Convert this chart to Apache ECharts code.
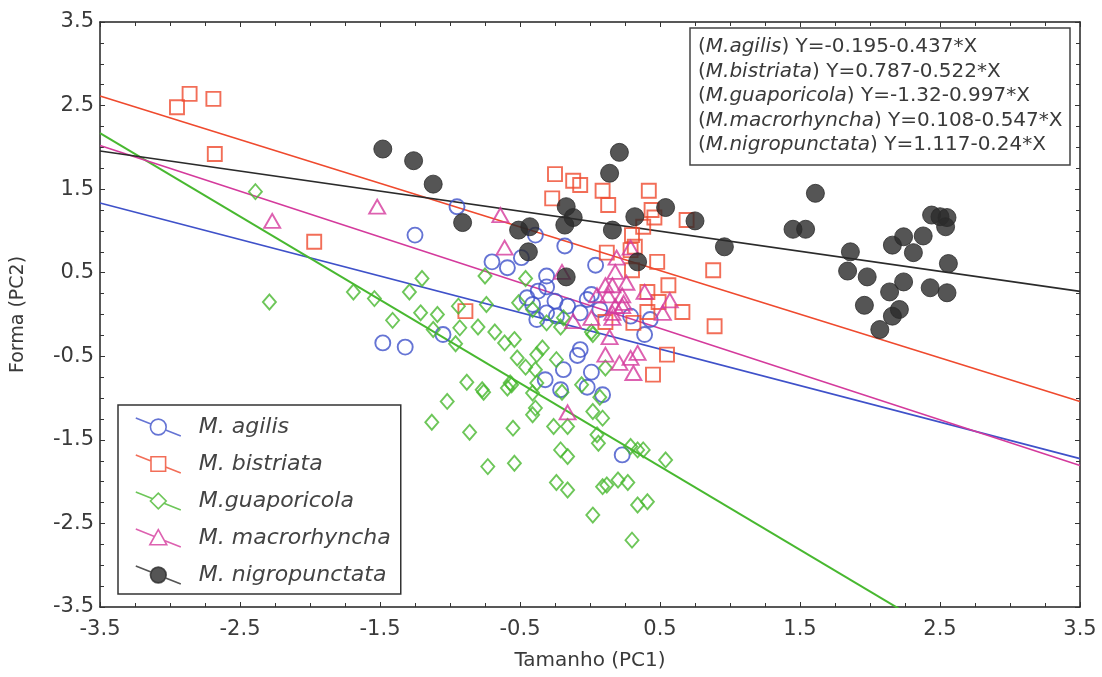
<!DOCTYPE html>
<html>
<head>
<meta charset="utf-8">
<script src="https://cdn.jsdelivr.net/npm/echarts@6/dist/echarts.min.js"></script>
<style>
html,body{margin:0;padding:0;background:#fff;}
#chart{width:1102px;height:677px;}
</style>
</head>
<body>
<div id="chart"></div>
<script>
// ---- tick labels ----
const xTicks = [-3.5, -2.5, -1.5, -0.5, 0.5, 1.5, 2.5, 3.5];
const yTicks = [-3.5, -2.5, -1.5, -0.5, 0.5, 1.5, 2.5, 3.5];
const xName = 'Tamanho (PC1)';
const yName = 'Forma (PC2)';

// ---- species ----
const legendNames = ['M. agilis', 'M. bistriata', 'M.guaporicola', 'M. macrorhyncha', 'M. nigropunctata'];
const eqNames = ['M.agilis', 'M.bistriata', 'M.guaporicola', 'M.macrorhyncha', 'M.nigropunctata'];
const eqIntercept = [-0.195, 0.787, -1.32, 0.108, 1.117];
const eqSlope = [-0.437, -0.522, -0.997, -0.547, -0.24];

// ---- data (PC1, PC2) ----
const agilis = [
  [-0.95,1.29],[-1.25,0.95],[-1.48,-0.34],[-1.32,-0.39],[-1.05,-0.24],[-0.39,0.95],[-0.18,0.82],
  [-0.70,0.63],[-0.59,0.56],[-0.49,0.68],[-0.31,0.46],[-0.31,0.33],[0.04,0.59],[-0.41,0.12],
  [-0.25,0.16],[-0.16,0.10],[-0.07,0.02],[-0.31,0.02],[-0.38,-0.06],[-0.24,-0.02],[0.01,0.24],
  [0.07,0.06],[0.29,-0.02],[0.43,-0.06],[0.39,-0.24],[-0.07,-0.42],[-0.09,-0.49],[0.01,-0.69],
  [-0.32,-0.78],[-0.02,-0.87],[0.09,-0.96],[-0.37,0.28],[-0.02,0.18],[-0.19,-0.66],[-0.21,-0.90],
  [0.23,-1.68],[-0.45,0.20]
];
const bistriata = [
  [-2.95,2.48],[-2.86,2.64],[-2.69,2.58],[-2.68,1.92],[-1.97,0.87],[-0.89,0.04],[-0.25,1.68],
  [-0.12,1.60],[-0.07,1.55],[-0.27,1.39],[0.09,1.48],[0.13,1.31],[0.42,1.48],[0.44,1.25],
  [0.46,1.16],[0.38,1.05],[0.30,0.95],[0.32,0.81],[0.69,1.13],[0.12,0.74],[0.29,0.77],
  [0.48,0.63],[0.30,0.53],[0.88,0.53],[0.56,0.35],[0.41,0.27],[0.49,0.15],[0.41,0.03],
  [0.66,0.03],[0.31,-0.10],[0.11,-0.09],[0.89,-0.14],[0.55,-0.48],[0.45,-0.72]
];
const guaporicola = [
  [-2.39,1.47],[-2.29,0.15],[-1.69,0.27],[-1.54,0.19],[-1.41,-0.07],[-1.20,0.43],[-1.29,0.27],
  [-1.21,0.02],[-1.09,0.00],[-1.12,-0.18],[-0.94,0.10],[-0.93,-0.16],[-0.96,-0.35],[-0.88,-0.81],
  [-1.02,-1.04],[-0.75,0.46],[-0.46,0.43],[-0.74,0.12],[-0.51,0.14],[-0.41,0.06],[-0.80,-0.15],
  [-0.68,-0.21],[-0.61,-0.34],[-0.54,-0.30],[-0.31,-0.10],[-0.19,-0.04],[-0.21,-0.15],[0.01,-0.21],
  [-0.52,-0.52],[-0.46,-0.63],[-0.39,-0.66],[-0.34,-0.40],[-0.24,-0.54],[-0.38,-0.82],[-0.56,-0.84],
  [-0.77,-0.90],[-0.20,-0.93],[-0.06,-0.84],[0.07,-0.99],[0.11,-0.64],[-1.13,-1.29],[-0.86,-1.41],
  [-0.76,-0.93],[-0.73,-1.82],[-0.54,-1.78],[-0.55,-1.36],[-0.38,-0.48],[-0.57,-0.82],[-0.59,-0.88],
  [-0.41,-0.94],[-0.39,-1.12],[-0.41,-1.20],[-0.26,-1.34],[-0.16,-1.34],[-0.21,-1.62],[-0.16,-1.70],
  [-0.24,-2.01],[-0.16,-2.10],[0.02,-1.16],[0.09,-1.24],[0.05,-1.44],[0.06,-1.54],[0.09,-2.06],
  [0.12,-2.04],[0.20,-1.98],[0.27,-2.01],[0.02,-2.40],[0.30,-2.70],[0.34,-2.28],[0.41,-2.24],
  [0.29,-1.58],[0.34,-1.62],[0.38,-1.62],[0.54,-1.74],[0.02,-0.24]
];
const macrorhyncha = [
  [-2.27,1.12],[-1.52,1.29],[-0.64,1.19],[-0.61,0.80],[-0.20,0.51],[0.29,0.80],[0.19,0.68],
  [0.18,0.51],[0.11,0.35],[0.16,0.35],[0.26,0.38],[0.05,0.23],[0.13,0.23],[0.23,0.23],
  [0.39,0.27],[0.57,0.17],[0.52,0.02],[0.18,0.10],[0.23,0.10],[-0.12,-0.08],[0.01,-0.04],
  [0.16,-0.04],[0.14,-0.27],[0.11,-0.48],[0.21,-0.58],[0.29,-0.52],[0.34,-0.46],[0.31,-0.70],
  [-0.16,-1.17],[0.24,0.14],[0.16,0.02]
];
const nigropunctata = [
  [-1.48,1.98],[-1.26,1.84],[-1.12,1.56],[-0.91,1.10],[-0.51,1.01],[-0.43,1.05],[-0.44,0.75],
  [-0.17,0.45],[-0.17,1.29],[-0.12,1.16],[-0.18,1.07],[0.14,1.69],[0.21,1.94],[0.16,1.01],
  [0.32,1.17],[0.54,1.28],[0.75,1.12],[0.34,0.63],[0.96,0.81],[1.61,1.45],[1.45,1.02],
  [1.54,1.02],[1.86,0.75],[1.84,0.52],[1.98,0.45],[1.96,0.11],[2.07,-0.18],[2.14,0.27],
  [2.24,0.39],[2.16,-0.02],[2.21,0.06],[2.16,0.83],[2.24,0.93],[2.38,0.94],[2.31,0.74],
  [2.56,0.61],[2.43,0.32],[2.55,0.26],[2.44,1.19],[2.50,1.17],[2.55,1.16],[2.54,1.05]
];

// ---- styling ----
const allData = [agilis, bistriata, guaporicola, macrorhyncha, nigropunctata];
const colors = ['#3f51c9', '#ef4a2e', '#48b830', '#d43a9c', '#2b2b2b'];
const symbols = ['circle', 'rect', 'diamond', 'triangle', 'circle'];
const sizes = [15, 14, [13, 15], [16, 14], 18];
const hollow = [true, true, true, true, false];
const icons = [
  'path://M0 0L13.5 5.4M26.5 10.6L40 16M27 8A7 7 0 1 1 13 8A7 7 0 1 1 27 8Z',
  'path://M0 0L13.5 5.4M26.5 10.6L40 16M13.5 1.5H26.5V14.5H13.5Z',
  'path://M0 0L15 6M25 10L40 16M13 8L20 1L27 8L20 15Z',
  'path://M0 0L16.6 6.64M25.36 10.14L40 16M20 0.5L27.5 14H12.5Z',
  'path://M0 0L13.5 5.4M26.5 10.6L40 16M27 8A7 7 0 1 1 13 8A7 7 0 1 1 27 8Z'
];
const FONT = 'DejaVu Sans';
const TXT = '#3a3a3a';

const xMin = xTicks[0], xMax = xTicks[xTicks.length - 1];
const yMin = yTicks[0], yMax = yTicks[yTicks.length - 1];

const series = [];
allData.forEach((d, i) => {
  series.push({
    name: 'fit' + i,
    type: 'line',
    silent: true,
    symbol: 'none',
    clip: true,
    z: 1,
    lineStyle: {color: colors[i], width: i === 2 ? 2 : 1.6},
    data: [[xMin, eqIntercept[i] + eqSlope[i] * xMin], [xMax, eqIntercept[i] + eqSlope[i] * xMax]]
  });
});
allData.forEach((d, i) => {
  series.push({
    name: legendNames[i],
    type: 'scatter',
    symbol: symbols[i],
    symbolSize: sizes[i],
    z: 2,
    itemStyle: hollow[i]
      ? {color: 'rgba(255,255,255,0)', borderColor: colors[i], borderWidth: 1.9}
      : {color: colors[i], borderColor: colors[i], borderWidth: 1},
    data: d
  });
});

const eqLines = eqNames.map((n, i) => '(' + '{i|' + n + '}' + ') Y=' + eqIntercept[i] + eqSlope[i] + '*X');

function axisCommon() {
  return {
    type: 'value',
    axisLine: {show: true, onZero: false, lineStyle: {color: '#222', width: 1.5}},
    axisTick: {show: true, inside: true, length: 5, lineStyle: {color: '#333', width: 1}},
    minorTick: {show: true, splitNumber: 4, length: 4, lineStyle: {color: '#333', width: 1}},
    splitLine: {show: false}, minorSplitLine: {show: false}
  };
}
const xBottom = Object.assign(axisCommon(), {
  position: 'bottom', min: xMin, max: xMax, interval: xTicks[1] - xTicks[0],
  name: xName, nameLocation: 'middle', nameGap: 44,
  nameTextStyle: {fontFamily: FONT, fontSize: 20, color: TXT},
  axisLabel: {fontFamily: FONT, fontSize: 21, color: TXT, margin: 12}
});
const xTop = Object.assign(axisCommon(), {
  position: 'top', min: xMin, max: xMax, interval: xTicks[1] - xTicks[0],
  axisLabel: {show: false}
});
const yLeft = Object.assign(axisCommon(), {
  position: 'left', min: yMin, max: yMax, interval: yTicks[1] - yTicks[0],
  name: yName, nameLocation: 'middle', nameGap: 72,
  nameTextStyle: {fontFamily: FONT, fontSize: 19, color: TXT},
  axisLabel: {fontFamily: FONT, fontSize: 21, color: TXT, margin: 6}
});
const yRight = Object.assign(axisCommon(), {
  position: 'right', min: yMin, max: yMax, interval: yTicks[1] - yTicks[0],
  axisLabel: {show: false}
});

series.forEach(s => { s.xAxisIndex = 0; s.yAxisIndex = 0; });

const option = {
  backgroundColor: '#fff',
  animation: false,
  grid: {left: 100, right: 22, top: 22, bottom: 70, containLabel: false},
  xAxis: [xBottom, xTop],
  yAxis: [yLeft, yRight],
  title: {
    left: 690, top: 28,
    text: eqLines.join('\n'),
    padding: [7, 8, 8, 8],
    borderColor: '#444', borderWidth: 1.5,
    textStyle: {
      fontFamily: FONT, fontSize: 20, color: TXT, fontWeight: 'normal', lineHeight: 24.5,
      rich: {i: {fontFamily: FONT, fontSize: 20, color: TXT, fontStyle: 'italic', lineHeight: 24.5}}
    }
  },
  legend: {
    orient: 'vertical', left: 118, top: 405,
    selectedMode: false,
    itemWidth: 45, itemHeight: 18, itemGap: 13,
    padding: [10, 10, 7, 17],
    borderColor: '#333', borderWidth: 1.5, borderRadius: 0,
    backgroundColor: '#fff',
    textStyle: {fontFamily: FONT, fontStyle: 'italic', fontSize: 22, color: '#444', lineHeight: 24, padding: [0, 0, 0, 13]},
    data: legendNames.map((n, i) => ({
      name: n, icon: icons[i],
      itemStyle: hollow[i]
        ? {color: 'rgba(255,255,255,0)', borderColor: colors[i], borderWidth: 1.6}
        : {color: colors[i], borderColor: colors[i], borderWidth: 1.6}
    }))
  },
  series: series
};

const chart = echarts.init(document.getElementById('chart'), null, {renderer: 'canvas'});
chart.setOption(option);
</script>
</body>
</html>
